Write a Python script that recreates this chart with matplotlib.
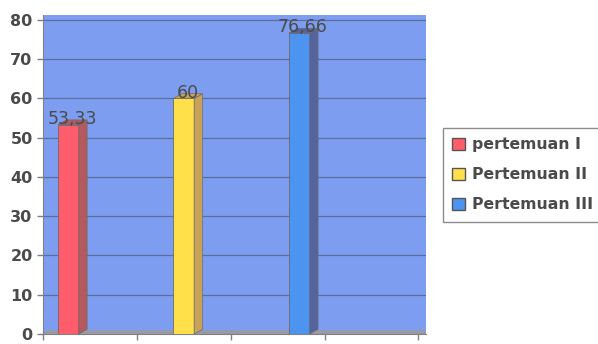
import numpy as np
import matplotlib.pyplot as plt
from matplotlib.patches import Patch

# nilai rata-rata tiap pertemuan
pertemuan = ["pertemuan I", "Pertemuan II", "Pertemuan III"]
nilai = [53.33, 60, 76.66]
label_nilai = ["53,33", "60", "76,66"]
posisi = [0.27, 1.5, 2.73]

warna_depan = ["#ff5c6c", "#ffe04a", "#4c94f0"]
warna_samping = ["#b25a5e", "#c9a25a", "#56649e"]

fig = plt.figure(figsize=(5.98, 3.44), dpi=100)
ax = fig.add_axes([43 / 598, 1 - 334 / 344, (426 - 43) / 598, (334 - 15) / 344])
ax.set_facecolor("#7d9ef0")

lebar = 0.22
dx, dy = 0.09, 1.2  # kedalaman sisi samping bar
for x, v, cf, cs in zip(posisi, nilai, warna_depan, warna_samping):
    ax.bar(x, v, width=lebar, color=cf, edgecolor="#6a6a6a", linewidth=0.6, zorder=3)
    kanan = x + lebar / 2
    ax.fill([kanan, kanan + dx, kanan + dx, kanan], [0, dy, v + dy, v],
            color=cs, edgecolor="#6a6a6a", linewidth=0.5, zorder=3)
    ax.fill([x - lebar / 2, x - lebar / 2 + dx, kanan + dx, kanan], [v, v + dy, v + dy, v],
            color=cs, edgecolor="#6a6a6a", linewidth=0.5, zorder=3)

for x, v, t in zip(posisi, nilai, label_nilai):
    ax.text(x + 0.04, v + 1.5, t, ha="center", va="center", fontsize=12.5,
            color="#4a4a4a", zorder=5)

# lantai abu-abu di dasar grafik
ax.fill([0, 0.05, 4.1, 4.05], [0, 0.8, 0.8, 0], color="#9a9aa6", zorder=2)

ax.set_xlim(0, 4.08)
ax.set_ylim(0, 81.25)
ax.set_yticks(np.arange(0, 81, 10))
ax.set_xticks([0, 1, 2, 3, 4])
ax.set_xticklabels([])
ax.yaxis.grid(True, color="#5c6c9c", linewidth=0.9, zorder=1)
ax.set_axisbelow(True)
ax.tick_params(axis="y", labelsize=11.5, labelcolor="#4a4a4a", color="#808080",
               length=4, width=1)
ax.tick_params(axis="x", color="#808080", length=4, width=1)
for t in ax.get_yticklabels():
    t.set_fontweight("bold")
for s in ["top", "right"]:
    ax.spines[s].set_visible(False)
ax.spines["left"].set_color("#808080")
ax.spines["bottom"].set_color("#808080")

handles = [Patch(facecolor=c, edgecolor="#555555") for c in warna_depan]
leg = fig.legend(handles, pertemuan, loc="upper left",
                 bbox_to_anchor=(443 / 598, 1 - 128 / 344), fontsize=11.3,
                 frameon=True, fancybox=False, edgecolor="#707070",
                 handlelength=0.8, handleheight=0.8, handletextpad=0.45,
                 labelspacing=0.95, borderpad=0.6, borderaxespad=0)
for t in leg.get_texts():
    t.set_color("#4a4a4a")
    t.set_fontweight("bold")

fig.savefig("out.png", dpi=100)
